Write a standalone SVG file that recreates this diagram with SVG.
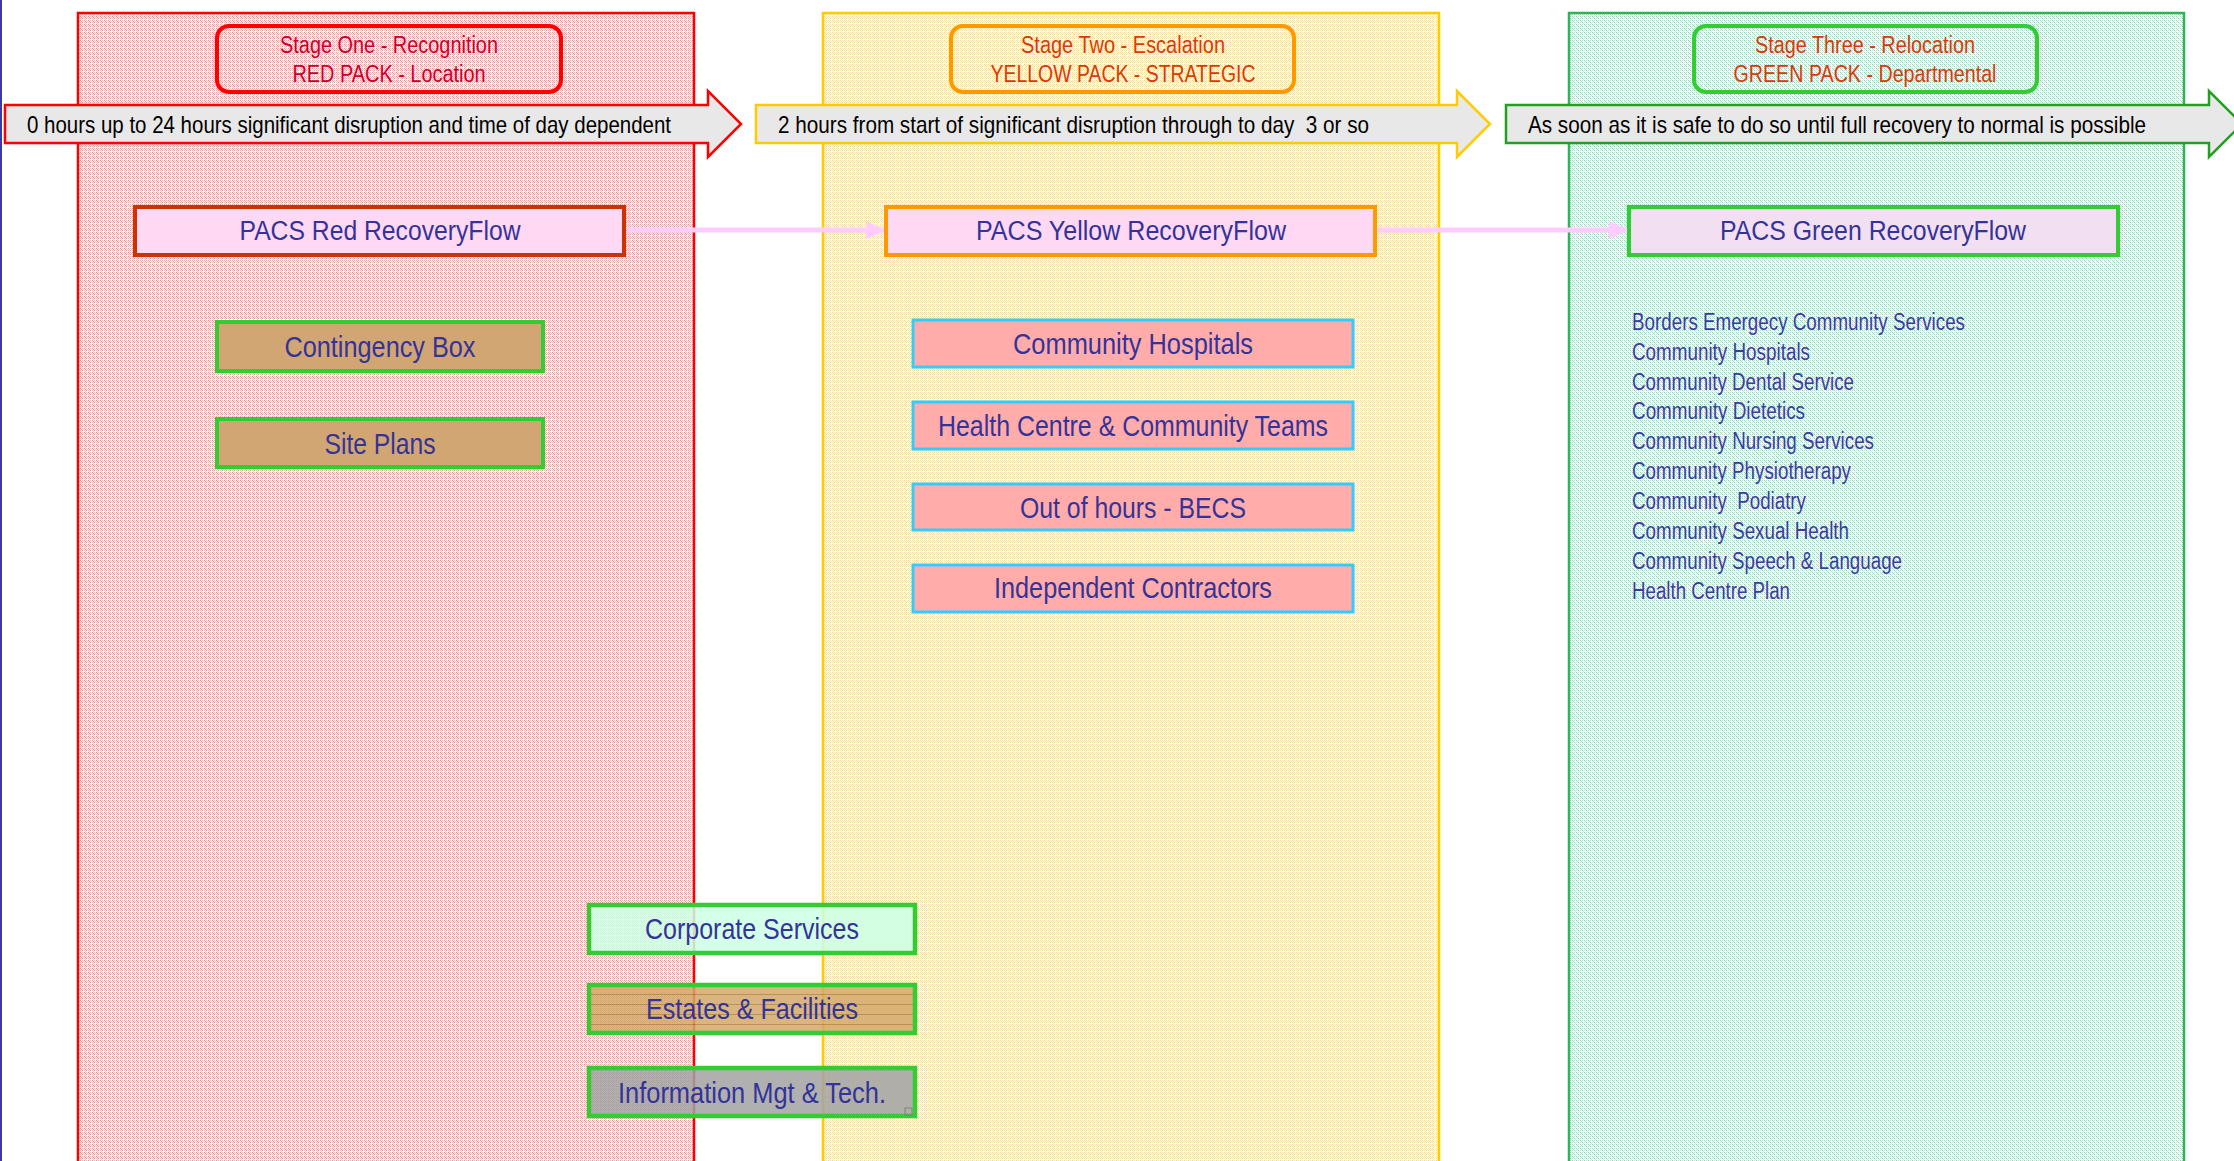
<svg xmlns="http://www.w3.org/2000/svg" width="2234" height="1161" viewBox="0 0 2234 1161">
  <style>
    text { font-family: "Liberation Sans Narrow", "Liberation Sans", Arial, sans-serif; }
    .stage { font-size: 23px; text-anchor: middle; }
    .band { font-size: 24px; fill: #000; }
    .pacs { font-size: 27px; fill: #333399; text-anchor: middle; }
    .item { font-size: 30px; fill: #333399; text-anchor: middle; }
    .dept { font-size: 23px; fill: #3c3c9c; }
    .col { stroke-width: 2.5; }
    .tag { fill: #d2a672; stroke: #33cc33; stroke-width: 4; }
    .svc { fill: #ffacaa; stroke: #33ccff; stroke-width: 3; }
    .low { stroke: #33cc33; stroke-width: 4.5; }
    .flow { stroke: #ffccff; stroke-width: 5; fill: none; }
  </style>
  <defs>
    <pattern id="texRed" width="4" height="4" patternUnits="userSpaceOnUse" shape-rendering="crispEdges">
      <rect width="4" height="4" fill="#ffffff"/>
      <rect x="0" y="0" width="1" height="1" fill="#ff8c8c"/>
      <rect x="2" y="0" width="1" height="1" fill="#ffb0b0"/>
      <rect x="1" y="1" width="1" height="1" fill="#ff9c9c"/>
      <rect x="3" y="1" width="1" height="1" fill="#ffc0c0"/>
      <rect x="0" y="2" width="1" height="1" fill="#ffb0b0"/>
      <rect x="2" y="2" width="1" height="1" fill="#ff8c8c"/>
      <rect x="1" y="3" width="1" height="1" fill="#ffc0c0"/>
    </pattern>
    <pattern id="texYellow" width="4" height="4" patternUnits="userSpaceOnUse" shape-rendering="crispEdges">
      <rect width="4" height="4" fill="#ffffff"/>
      <rect x="0" y="0" width="1" height="1" fill="#ffd966"/>
      <rect x="2" y="0" width="1" height="1" fill="#ffe699"/>
      <rect x="1" y="1" width="1" height="1" fill="#ffdd77"/>
      <rect x="3" y="1" width="1" height="1" fill="#ffecb0"/>
      <rect x="0" y="2" width="1" height="1" fill="#ffe699"/>
      <rect x="2" y="2" width="1" height="1" fill="#ffd966"/>
      <rect x="1" y="3" width="1" height="1" fill="#ffecb0"/>
    </pattern>
    <pattern id="texGreen" width="4" height="4" patternUnits="userSpaceOnUse" shape-rendering="crispEdges">
      <rect width="4" height="4" fill="#ffffff"/>
      <rect x="0" y="0" width="1" height="1" fill="#88d8bb"/>
      <rect x="2" y="0" width="1" height="1" fill="#bbe8d6"/>
      <rect x="1" y="1" width="1" height="1" fill="#99ddc4"/>
      <rect x="0" y="2" width="1" height="1" fill="#bbe8d6"/>
      <rect x="2" y="2" width="1" height="1" fill="#88d8bb"/>
      <rect x="3" y="3" width="1" height="1" fill="#cceee0"/>
    </pattern>
    <pattern id="stripes" width="10" height="10" patternUnits="userSpaceOnUse" y="985">
      <rect width="10" height="10" fill="#d4a868"/>
      <rect y="9" width="10" height="1.5" fill="#b0803a"/>
    </pattern>
    <marker id="flowHead" viewBox="0 0 20 18" refX="19" refY="9" markerWidth="20" markerHeight="18" markerUnits="userSpaceOnUse" orient="auto">
      <path d="M0,0 L20,9 L0,18 Z" fill="#ffccff"/>
    </marker>
  </defs>

  <!-- page background and left rule -->
  <rect width="2234" height="1161" fill="#ffffff"/>
  <rect x="0" y="0" width="2" height="1161" fill="#3a3aa0"/>

  <!-- stage columns -->
  <g id="columns">
    <rect id="col-red" class="col" x="78" y="13" width="616" height="1160" fill="url(#texRed)" stroke="#ff0000"/>
    <rect id="col-yellow" class="col" x="823" y="13" width="616" height="1160" fill="url(#texYellow)" stroke="#ffcc00"/>
    <rect id="col-green" class="col" x="1569" y="13" width="615" height="1160" fill="url(#texGreen)" stroke="#2fb455"/>
  </g>

  <!-- stage headings -->
  <g id="stage-one">
    <rect x="217" y="26" width="344" height="66" rx="12" fill="none" stroke="#ff0000" stroke-width="4"/>
    <text class="stage" x="389" y="53" fill="#c8002e" textLength="218" lengthAdjust="spacingAndGlyphs">Stage One - Recognition</text>
    <text class="stage" x="389" y="82" fill="#c8002e" textLength="193" lengthAdjust="spacingAndGlyphs">RED PACK - Location</text>
  </g>
  <g id="stage-two">
    <rect x="951" y="26" width="343" height="66" rx="12" fill="none" stroke="#ff9900" stroke-width="4"/>
    <text class="stage" x="1123" y="53" fill="#d83a0a" textLength="204" lengthAdjust="spacingAndGlyphs">Stage Two - Escalation</text>
    <text class="stage" x="1123" y="82" fill="#d83a0a" textLength="265" lengthAdjust="spacingAndGlyphs">YELLOW PACK - STRATEGIC</text>
  </g>
  <g id="stage-three">
    <rect x="1694" y="26" width="343" height="66" rx="12" fill="none" stroke="#33cc33" stroke-width="4"/>
    <text class="stage" x="1865" y="53" fill="#d83a0a" textLength="220" lengthAdjust="spacingAndGlyphs">Stage Three - Relocation</text>
    <text class="stage" x="1865" y="82" fill="#d83a0a" textLength="263" lengthAdjust="spacingAndGlyphs">GREEN PACK - Departmental</text>
  </g>

  <!-- timeline block arrows -->
  <g id="band-one">
    <polygon points="5,105 708,105 708,91 741,124 708,157 708,143 5,143" fill="#e8e8e8" stroke="#ff0000" stroke-width="2.5"/>
    <text class="band" x="27" y="133" textLength="644" lengthAdjust="spacingAndGlyphs">0 hours up to 24 hours significant disruption and time of day dependent</text>
  </g>
  <g id="band-two">
    <polygon points="756,105 1457,105 1457,91 1490,124 1457,157 1457,143 756,143" fill="#e8e8e8" stroke="#ffcc00" stroke-width="2.5"/>
    <text class="band" x="778" y="133" textLength="591" lengthAdjust="spacingAndGlyphs" xml:space="preserve">2 hours from start of significant disruption through to day  3 or so</text>
  </g>
  <g id="band-three">
    <polygon points="1506,105 2209,105 2209,91 2242,124 2209,157 2209,143 1506,143" fill="#e8e8e8" stroke="#22a022" stroke-width="2.5"/>
    <text class="band" x="1528" y="133" textLength="618" lengthAdjust="spacingAndGlyphs">As soon as it is safe to do so until full recovery to normal is possible</text>
  </g>

  <!-- recovery flow connectors -->
  <g id="connectors">
    <line class="flow" x1="627" y1="230" x2="885" y2="230" marker-end="url(#flowHead)"/>
    <line class="flow" x1="1378" y1="230" x2="1628" y2="230" marker-end="url(#flowHead)"/>
  </g>

  <!-- PACS recovery flow boxes -->
  <g id="pacs-red">
    <rect x="135" y="207" width="489" height="48" fill="#ffd8f4" stroke="#cc3300" stroke-width="4"/>
    <text class="pacs" x="380" y="240" textLength="281" lengthAdjust="spacingAndGlyphs">PACS Red RecoveryFlow</text>
  </g>
  <g id="pacs-yellow">
    <rect x="886" y="207" width="489" height="48" fill="#ffd8f4" stroke="#ff9900" stroke-width="4"/>
    <text class="pacs" x="1131" y="240" textLength="310" lengthAdjust="spacingAndGlyphs">PACS Yellow RecoveryFlow</text>
  </g>
  <g id="pacs-green">
    <rect x="1629" y="207" width="489" height="48" fill="#f2e0f2" stroke="#33cc33" stroke-width="4"/>
    <text class="pacs" x="1873" y="240" textLength="306" lengthAdjust="spacingAndGlyphs">PACS Green RecoveryFlow</text>
  </g>

  <!-- stage one resources -->
  <g id="contingency-box">
    <rect class="tag" x="217" y="322" width="326" height="49"/>
    <text class="item" x="380" y="357" textLength="191" lengthAdjust="spacingAndGlyphs">Contingency Box</text>
  </g>
  <g id="site-plans">
    <rect class="tag" x="217" y="419" width="326" height="48"/>
    <text class="item" x="380" y="454" textLength="111" lengthAdjust="spacingAndGlyphs">Site Plans</text>
  </g>

  <!-- stage two services -->
  <g id="community-hospitals">
    <rect class="svc" x="913" y="320" width="440" height="47"/>
    <text class="item" x="1133" y="354" textLength="240" lengthAdjust="spacingAndGlyphs">Community Hospitals</text>
  </g>
  <g id="health-centre-teams">
    <rect class="svc" x="913" y="402" width="440" height="47"/>
    <text class="item" x="1133" y="436" textLength="390" lengthAdjust="spacingAndGlyphs">Health Centre &amp; Community Teams</text>
  </g>
  <g id="out-of-hours">
    <rect class="svc" x="913" y="484" width="440" height="46"/>
    <text class="item" x="1133" y="518" textLength="226" lengthAdjust="spacingAndGlyphs">Out of hours - BECS</text>
  </g>
  <g id="independent-contractors">
    <rect class="svc" x="913" y="565" width="440" height="47"/>
    <text class="item" x="1133" y="598" textLength="278" lengthAdjust="spacingAndGlyphs">Independent Contractors</text>
  </g>

  <!-- stage three departmental plans -->
  <g id="departments">
    <text class="dept" x="1632" y="330" textLength="333" lengthAdjust="spacingAndGlyphs">Borders Emergecy Community Services</text>
    <text class="dept" x="1632" y="360" textLength="178" lengthAdjust="spacingAndGlyphs">Community Hospitals</text>
    <text class="dept" x="1632" y="390" textLength="222" lengthAdjust="spacingAndGlyphs">Community Dental Service</text>
    <text class="dept" x="1632" y="419" textLength="173" lengthAdjust="spacingAndGlyphs">Community Dietetics</text>
    <text class="dept" x="1632" y="449" textLength="242" lengthAdjust="spacingAndGlyphs">Community Nursing Services</text>
    <text class="dept" x="1632" y="479" textLength="219" lengthAdjust="spacingAndGlyphs">Community Physiotherapy</text>
    <text class="dept" x="1632" y="509" textLength="174" lengthAdjust="spacingAndGlyphs" xml:space="preserve">Community  Podiatry</text>
    <text class="dept" x="1632" y="539" textLength="217" lengthAdjust="spacingAndGlyphs">Community Sexual Health</text>
    <text class="dept" x="1632" y="569" textLength="270" lengthAdjust="spacingAndGlyphs">Community Speech &amp; Language</text>
    <text class="dept" x="1632" y="599" textLength="158" lengthAdjust="spacingAndGlyphs">Health Centre Plan</text>
  </g>

  <!-- cross-stage support services -->
  <g id="corporate-services">
    <rect class="low" x="589" y="905" width="326" height="48" fill="#ccffe4" fill-opacity="0.85"/>
    <text class="item" x="752" y="939" textLength="214" lengthAdjust="spacingAndGlyphs">Corporate Services</text>
  </g>
  <g id="estates-facilities">
    <rect class="low" x="589" y="985" width="326" height="48" fill="url(#stripes)" fill-opacity="0.85"/>
    <text class="item" x="752" y="1019" textLength="212" lengthAdjust="spacingAndGlyphs">Estates &amp; Facilities</text>
  </g>
  <g id="information-mgt">
    <rect class="low" x="589" y="1068" width="326" height="48" fill="#a2a2a2" fill-opacity="0.85"/>
    <rect x="905" y="1108" width="7" height="7" fill="none" stroke="#808080" stroke-width="1"/>
    <text class="item" x="752" y="1103" textLength="268" lengthAdjust="spacingAndGlyphs">Information Mgt &amp; Tech.</text>
  </g>
</svg>
